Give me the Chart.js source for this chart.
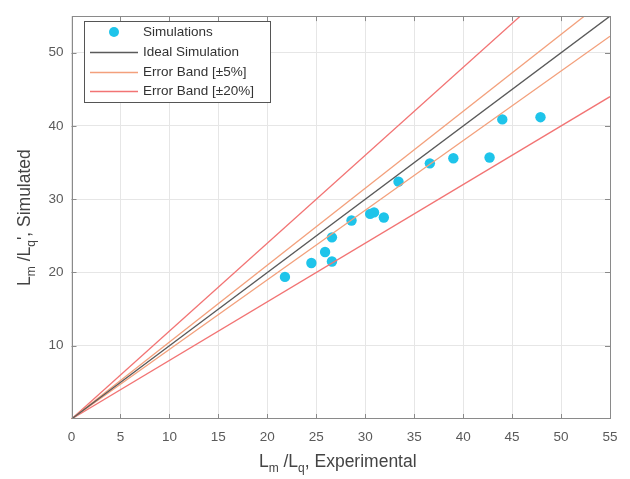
<!DOCTYPE html>
<html>
<head>
<meta charset="utf-8">
<script src="https://cdn.jsdelivr.net/npm/chart.js@4.4.0/dist/chart.umd.min.js"></script>
<style>
  html, body { margin: 0; padding: 0; background: #fff; }
</style>
</head>
<body>
<canvas id="chart" width="630" height="479"></canvas>
<script>
// values
const expX = [21.8, 24.5, 25.9, 26.6, 26.6, 28.6, 30.5, 30.9, 31.9, 33.4, 36.6, 39.0, 42.7, 44.0, 47.9]
const simY = [19.4, 21.3, 22.8, 24.8, 21.5, 27.1, 28.0, 28.2, 27.5, 32.4, 34.9, 35.6, 35.7, 40.9, 41.2]
const xTicks = [0, 5, 10, 15, 20, 25, 30, 35, 40, 45, 50, 55]
const yTicks = [10, 20, 30, 40, 50]
const xRange = [0, 55]

// reference lines: name, colour, slopes
const lineNames = ['Ideal Simulation', 'Error Band [±5%]', 'Error Band [±20%]']
const lineColors = ['#5a5a5a', '#f3a07c', '#f27474']
const lineSlopes = [[1], [1.05, 0.95], [1.2, 0.8]]

const fontFam = '"Liberation Sans", Arial, sans-serif'
const tickFont = { family: fontFam, size: 13.5 }
const dotColor = '#1ec4ea'

const lineSets = []
lineNames.forEach((name, i) => {
    lineSlopes[i].forEach(k => {
        lineSets.push({
            label: name,
            data: xRange.map(x => ({ x: x, y: x * k })),
            showLine: true,
            borderColor: lineColors[i],
            borderWidth: 1.3,
            pointRadius: 0,
            fill: false
        })
    })
})

// legend box drawn inside the plot, matlab style
const insideLegend = {
    id: 'insideLegend',
    afterDraw(chart) {
        const ctx = chart.ctx
        const area = chart.chartArea
        ctx.save()

        // inward ticks and box outline
        ctx.strokeStyle = '#8a8a8a'
        ctx.lineWidth = 1
        const xs = chart.scales.x, ys = chart.scales.y
        ctx.beginPath()
        xTicks.forEach(v => {
            const px = Math.round(xs.getPixelForValue(v)) + 0.5
            ctx.moveTo(px, area.bottom); ctx.lineTo(px, area.bottom - 5)
            ctx.moveTo(px, area.top); ctx.lineTo(px, area.top + 5)
        })
        yTicks.forEach(v => {
            const py = Math.round(ys.getPixelForValue(v)) + 0.5
            ctx.moveTo(area.left, py); ctx.lineTo(area.left + 5, py)
            ctx.moveTo(area.right, py); ctx.lineTo(area.right - 5, py)
        })
        ctx.stroke()
        ctx.strokeRect(Math.round(area.left) + 0.5, Math.round(area.top) + 0.5,
            Math.round(area.right - area.left) - 1, Math.round(area.bottom - area.top) - 1)

        // legend
        const bx = 84.5, by = 21.5, bw = 186, bh = 81
        ctx.fillStyle = '#fff'
        ctx.fillRect(bx, by, bw, bh)
        ctx.strokeStyle = '#555'
        ctx.strokeRect(bx, by, bw, bh)

        const rows = [32, 52, 72, 91]
        ctx.font = '13.5px ' + fontFam
        ctx.textBaseline = 'middle'
        ctx.fillStyle = '#333'
        ctx.fillText('Simulations', 143, rows[0])
        ctx.fillStyle = dotColor
        ctx.beginPath()
        ctx.arc(114, rows[0], 5, 0, Math.PI * 2)
        ctx.fill()
        lineNames.forEach((name, i) => {
            const ry = rows[i + 1] + 0.5
            ctx.strokeStyle = lineColors[i]
            ctx.lineWidth = 1.3
            ctx.beginPath()
            ctx.moveTo(90, ry); ctx.lineTo(138, ry)
            ctx.stroke()
            ctx.fillStyle = '#333'
            ctx.fillText(name, 143, rows[i + 1])
        })

        // axis titles with subscripts
        const xParts = [['L', 0], ['m', 1], [' /L', 0], ['q', 1], [', Experimental', 0]]
        const yParts = [['L', 0], ['m', 1], [' /L', 0], ['q', 1], ['\'', 2], [', Simulated', 0]]
        drawRich(ctx, xParts, (area.left + area.right) / 2 - 3, 467)
        ctx.translate(30, (area.top + area.bottom) / 2)
        ctx.rotate(-Math.PI / 2)
        drawRich(ctx, yParts, 0, 0)
        ctx.restore()
    }
}

function drawRich(ctx, parts, cx, baseY) {
    const big = '17.5px ' + fontFam, small = '12px ' + fontFam
    let w = 0
    parts.forEach(p => {
        ctx.font = p[1] === 1 ? small : big
        w += ctx.measureText(p[0]).width
    })
    let x = cx - w / 2
    ctx.fillStyle = '#444'
    ctx.textBaseline = 'alphabetic'
    parts.forEach(p => {
        ctx.font = p[1] === 1 ? small : big
        ctx.fillText(p[0], x, baseY + (p[1] === 1 ? 5 : 0))
        x += ctx.measureText(p[0]).width
    })
}

new Chart(document.getElementById('chart'), {
    type: 'scatter',
    data: {
        datasets: lineSets.concat([{
            label: 'Simulations',
            data: expX.map((x, i) => ({ x: x, y: simY[i] })),
            backgroundColor: dotColor,
            borderWidth: 0,
            pointRadius: 5.2
        }])
    },
    options: {
        responsive: false,
        animation: false,
        layout: { padding: { top: 6, right: 20, left: 0, bottom: 0 } },
        plugins: {
            legend: { display: false },
            tooltip: { enabled: false }
        },
        scales: {
            x: {
                type: 'linear',
                min: xRange[0],
                max: xRange[1],
                afterBuildTicks: axis => { axis.ticks = xTicks.map(v => ({ value: v })) },
                afterFit: axis => { axis.height = 60 },
                grid: { color: '#e6e6e6', drawTicks: false },
                border: { display: false },
                ticks: { padding: 10, font: tickFont, color: '#5a5a5a', maxRotation: 0 }
            },
            y: {
                min: 0,
                max: 55,
                afterBuildTicks: axis => { axis.ticks = yTicks.map(v => ({ value: v })) },
                afterFit: axis => { axis.width = 71.5 },
                grid: { color: '#e6e6e6', drawTicks: false },
                border: { display: false },
                ticks: { padding: 8, font: tickFont, color: '#5a5a5a' }
            }
        }
    },
    plugins: [insideLegend]
})
</script>
</body>
</html>
